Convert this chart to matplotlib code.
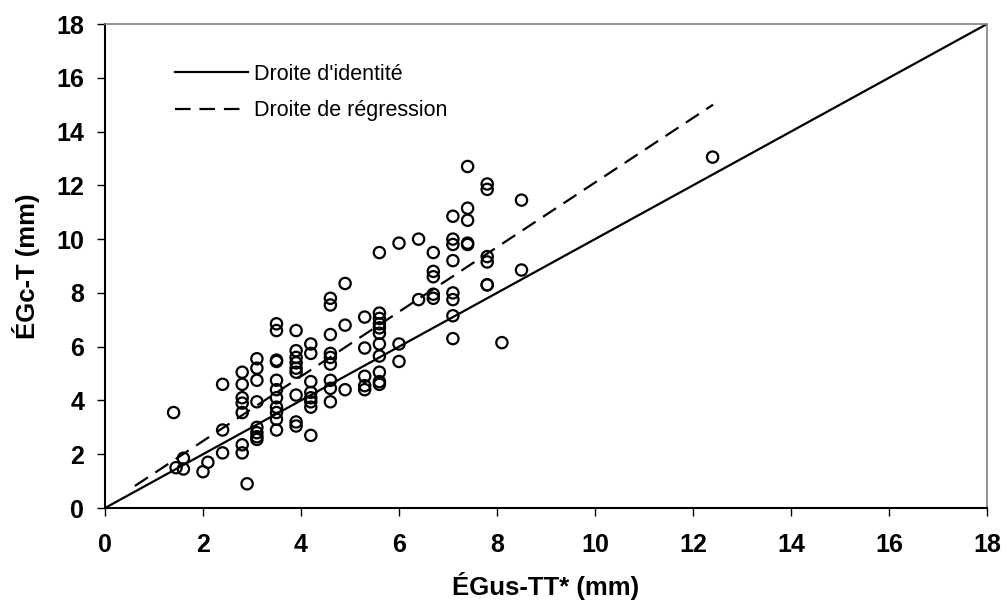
import matplotlib
matplotlib.use("Agg")
import matplotlib.pyplot as plt
import numpy as np

plt.rcParams['font.family'] = ['Liberation Sans', 'DejaVu Sans']

egus_tt = [1.4, 1.45, 1.6, 1.6, 2.0, 2.1,
           2.4, 2.4, 2.4,
           2.8, 2.8, 2.8, 2.8, 2.8, 2.8, 2.8,
           2.9,
           3.1, 3.1, 3.1, 3.1, 3.1, 3.1, 3.1, 3.1,
           3.5, 3.5, 3.5, 3.5, 3.5, 3.5, 3.5, 3.5, 3.5, 3.5, 3.5,
           3.9, 3.9, 3.9, 3.9, 3.9, 3.9, 3.9, 3.9, 3.9,
           4.2, 4.2, 4.2, 4.2, 4.2, 4.2, 4.2, 4.2,
           4.6, 4.6, 4.6, 4.6, 4.6, 4.6, 4.6, 4.6, 4.6,
           4.9, 4.9, 4.9,
           5.3, 5.3, 5.3, 5.3, 5.3,
           5.6, 5.6, 5.6, 5.6, 5.6, 5.6, 5.6, 5.6, 5.6, 5.6, 5.6,
           6.0, 6.0, 6.0,
           6.4, 6.4,
           6.7, 6.7, 6.7, 6.7, 6.7,
           7.1, 7.1, 7.1, 7.1, 7.1, 7.1, 7.1, 7.1,
           7.4, 7.4, 7.4, 7.4, 7.4,
           7.8, 7.8, 7.8, 7.8, 7.8, 7.8,
           8.1,
           8.5, 8.5,
           12.4]
egc_t = [3.55, 1.5, 1.85, 1.45, 1.35, 1.7,
         2.9, 4.6, 2.05,
         5.05, 4.6, 4.1, 3.9, 3.55, 2.35, 2.05,
         0.9,
         5.55, 5.2, 4.75, 3.95, 3.0, 2.8, 2.65, 2.55,
         6.85, 6.6, 5.5, 5.45, 4.75, 4.4, 4.1, 3.75, 3.55, 3.3, 2.9,
         6.6, 5.85, 5.6, 5.4, 5.2, 5.05, 4.2, 3.2, 3.05,
         6.1, 5.75, 4.7, 4.3, 4.1, 3.95, 3.75, 2.7,
         7.8, 7.55, 6.45, 5.75, 5.6, 5.35, 4.75, 4.45, 3.95,
         8.35, 6.8, 4.4,
         7.1, 5.95, 4.9, 4.55, 4.4,
         9.5, 7.25, 7.05, 6.85, 6.7, 6.5, 6.1, 5.65, 5.05, 4.7, 4.6,
         9.85, 6.1, 5.45,
         10.0, 7.75,
         9.5, 8.8, 8.6, 7.95, 7.8,
         10.85, 10.0, 9.8, 9.2, 8.0, 7.75, 7.15, 6.3,
         12.7, 11.15, 10.7, 9.85, 9.8,
         12.05, 11.85, 9.35, 9.15, 8.3, 8.3,
         6.15,
         11.45, 8.85,
         13.05]

identity_x = [0, 18]
identity_y = [0, 18]
regression_x = [0.61, 12.41]
regression_y = [0.82, 15.0]

fig = plt.figure(figsize=(10.08, 6.07), dpi=100)
ax = fig.add_axes([105/1008, 1 - 508/607, (987-105)/1008, (508-24)/607])

ax.plot(identity_x, identity_y, color='black', lw=1.6, label="Droite d'identité", zorder=2)
ax.plot(regression_x, regression_y, color='black', lw=1.6, dashes=(7, 4),
        label="Droite de régression", zorder=2)
ax.scatter(egus_tt, egc_t, s=66, facecolors='none', edgecolors='black',
           linewidths=1.6, zorder=3)

ax.set_xlim(0, 18)
ax.set_ylim(0, 18)
ax.set_xticks(np.arange(0, 19, 2))
ax.set_yticks(np.arange(0, 19, 2))
ax.tick_params(axis='both', direction='out', length=6, width=1, labelsize=18)
ax.tick_params(axis='x', pad=12)
ax.tick_params(axis='y', pad=9)
for lab in ax.get_xticklabels() + ax.get_yticklabels():
    lab.set_fontweight('bold')

ax.spines['left'].set_color('black')
ax.spines['bottom'].set_color('black')
ax.spines['left'].set_linewidth(1.5)
ax.spines['bottom'].set_linewidth(1.5)
ax.spines['top'].set_color('#808080')
ax.spines['right'].set_color('#808080')
ax.spines['top'].set_linewidth(1.2)
ax.spines['right'].set_linewidth(1.2)

ax.set_xlabel('ÉGus-TT* (mm)', fontsize=18.5, fontweight='bold', labelpad=11)
ax.set_ylabel('ÉGc-T (mm)', fontsize=18.5, fontweight='bold', labelpad=12)

leg = ax.legend(loc='upper left', bbox_to_anchor=(0.079, 0.918), frameon=False,
                fontsize=15.5, handlelength=3.4, handletextpad=0.3,
                labelspacing=0.72, borderaxespad=0, borderpad=0)

fig.savefig('out.png', dpi=100)
